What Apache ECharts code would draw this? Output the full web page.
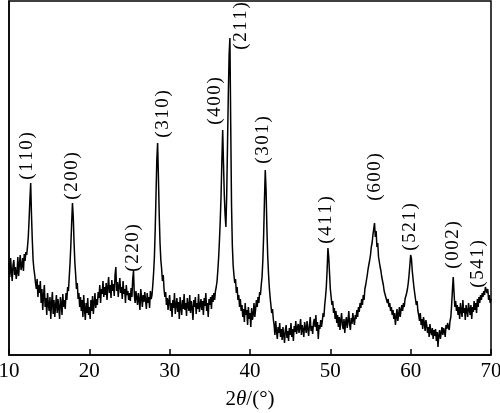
<!DOCTYPE html>
<html>
<head>
<meta charset="utf-8">
<script src="https://cdn.jsdelivr.net/npm/echarts@6/dist/echarts.min.js"></script>
<style>
  html, body { margin: 0; padding: 0; background: #fff; }
  #chart { width: 500px; height: 413px; }
</style>
</head>
<body>
<div id="chart"></div>
<script>
// XRD scan: 2θ from 10° to 70°, one reading every 0.1°
const startAngle = 10;
const stepAngle = 0.1;
const intensity = [
  92, 78, 97, 84, 74, 90, 95, 80, 88, 76,
  82, 98, 79, 91, 100, 85, 89, 97, 84, 101,
  94, 103, 100, 108, 118, 135, 155, 172, 140, 115,
  95, 86, 80, 72, 66, 76, 58, 70, 62, 74,
  52, 66, 45, 60, 70, 48, 57, 40, 62, 50,
  44, 58, 36, 52, 63, 41, 55, 38, 49, 60,
  42, 56, 47, 36, 58, 52, 40, 61, 48, 55,
  46, 62, 55, 68, 64, 78, 92, 110, 132, 152,
  138, 112, 92, 80, 66, 72, 56, 62, 48, 58,
  44, 55, 38, 60, 46, 35, 52, 42, 57, 40,
  48, 36, 55, 44, 59, 41, 52, 62, 47, 56,
  50, 63, 57, 70, 52, 66, 61, 74, 58, 68,
  60, 72, 55, 68, 78, 62, 70, 57, 75, 64,
  71, 59, 80, 88, 64, 73, 58, 69, 77, 62,
  68, 56, 74, 61, 66, 52, 70, 60, 64, 55,
  62, 54, 67, 58, 76, 84, 60, 52, 64, 57,
  50, 62, 55, 45, 66, 58, 48, 60, 53, 63,
  55, 46, 62, 52, 58, 47, 64, 56, 60, 70,
  82, 98, 125, 160, 195, 212, 178, 140, 112, 95,
  86, 74, 80, 66, 58, 63, 50, 57, 45, 54,
  60, 44, 52, 38, 55, 47, 62, 41, 50, 57,
  43, 53, 36, 58, 48, 40, 55, 46, 61, 45,
  52, 39, 57, 49, 44, 60, 42, 54, 47, 35,
  55, 48, 58, 41, 52, 46, 61, 43, 50, 56,
  45, 54, 40, 57, 49, 62, 44, 52, 38, 56,
  50, 58, 46, 60, 53, 62, 55, 64, 68, 74,
  85, 98, 115, 135, 160, 195, 225, 192, 160, 140,
  128, 160, 210, 260, 300, 317, 230, 150, 110, 90,
  80, 72, 76, 62, 68, 55, 60, 48, 56, 44,
  50, 38, 46, 33, 52, 40, 45, 30, 48, 36,
  42, 28, 47, 35, 40, 52, 38, 46, 55, 48,
  58, 52, 63, 60, 70, 78, 95, 120, 155, 185,
  165, 128, 100, 82, 68, 58, 50, 42, 46, 36,
  30, 20, 34, 24, 16, 28, 22, 32, 18, 26,
  15, 28, 20, 12, 25, 30, 17, 24, 14, 27,
  20, 32, 18, 26, 14, 29, 23, 34, 21, 27,
  31, 22, 28, 36, 20, 30, 25, 18, 33, 27,
  22, 34, 26, 19, 30, 38, 24, 29, 21, 32,
  36, 28, 40, 24, 33, 16, 30, 26, 35, 28,
  34, 42, 38, 50, 58, 68, 85, 107, 98, 82,
  66, 58, 50, 54, 42, 47, 36, 44, 32, 40,
  28, 38, 25, 35, 42, 30, 26, 36, 22, 33,
  38, 27, 34, 44, 30, 25, 37, 31, 42, 35,
  30, 40, 36, 45, 38, 48, 43, 52, 47, 56,
  50, 60, 55, 66, 70, 68, 80, 86, 84, 95,
  100, 108, 112, 120, 126, 132, 118, 124, 108, 112,
  98, 100, 88, 84, 78, 74, 70, 64, 66, 58,
  60, 52, 56, 48, 52, 44, 48, 40, 45, 36,
  42, 30, 38, 46, 34, 40, 48, 38, 45, 50,
  44, 52, 48, 56, 54, 62, 66, 72, 80, 90,
  100, 96, 84, 76, 68, 62, 56, 50, 54, 44,
  40, 34, 42, 30, 36, 26, 38, 32, 24, 35,
  30, 22, 28, 18, 31, 24, 20, 27, 16, 25,
  19, 26, 14, 23, 8, 20, 25, 16, 22, 28,
  20, 27, 24, 18, 30, 26, 32, 28, 25, 34,
  38, 50, 65, 78, 62, 48, 54, 44, 50, 40,
  48, 36, 52, 44, 38, 55, 42, 47, 35, 50,
  44, 38, 52, 46, 40, 50, 36, 48, 43, 54,
  45, 52, 42, 56, 48, 58, 52, 60, 55, 62,
  58, 64, 60, 68, 70, 62, 66, 55, 60, 52,
  56
];

// peak indices and where their labels sit (2θ, intensity)
const peakLabels = ['(110)', '(200)', '(220)', '(310)', '(400)', '(211)', '(301)', '(411)', '(600)', '(521)', '(002)', '(541)'];
const labelAngle = [12.24, 17.83, 25.4, 29.13, 35.59, 38.94, 41.68, 49.5, 55.6, 59.94, 65.28, 68.39];
const labelLevel = [199, 179, 107, 241, 254, 329, 215, 135, 178, 128, 110, 91];

const serif = '"Liberation Serif", "DejaVu Serif", serif';

const scan = intensity.map((v, i) => [+(startAngle + i * stepAngle).toFixed(1), v]);
const marks = peakLabels.map((name, i) => ({ name, value: [labelAngle[i], labelLevel[i]] }));

const chart = echarts.init(document.getElementById('chart'));
chart.setOption({
  animation: false,
  grid: {
    left: 9, right: 9, top: 1, bottom: 58,
    outerBoundsMode: 'none',
    containLabel: false,
    show: true, borderColor: '#000', borderWidth: 1.5
  },
  xAxis: {
    type: 'value',
    min: 10, max: 70, interval: 10,
    axisLine: { show: true, lineStyle: { color: '#000', width: 1.5 } },
    axisTick: { show: true, inside: true, length: 6, lineStyle: { color: '#000', width: 1.5 } },
    axisLabel: { color: '#000', fontFamily: serif, fontSize: 21, margin: 6 },
    splitLine: { show: false },
    name: '2{i|θ}/(°)',
    nameLocation: 'middle',
    nameGap: 34,
    nameTextStyle: {
      color: '#000', fontFamily: serif, fontSize: 21,
      rich: { i: { fontStyle: 'italic', fontFamily: serif, fontSize: 21, color: '#000' } }
    }
  },
  yAxis: {
    type: 'value',
    min: 0, max: 354,
    axisLine: { show: true, lineStyle: { color: '#000', width: 1.5 } },
    axisTick: { show: false },
    axisLabel: { show: false },
    splitLine: { show: false }
  },
  series: [
    {
      type: 'line',
      data: scan,
      showSymbol: false,
      sampling: 'none',
      lineStyle: { color: '#000', width: 1.5 }
    },
    {
      type: 'scatter',
      data: marks,
      symbol: 'circle',
      symbolSize: 1,
      itemStyle: { color: 'rgba(0,0,0,0)' },
      silent: true,
      z: 5,
      label: {
        show: true,
        position: 'inside',
        rotate: 90,
        color: '#000',
        opacity: 1,
        fontFamily: serif,
        fontSize: 19,
        formatter: (p) => p.name.split('').join('\u200a')
      }
    }
  ]
});
</script>
</body>
</html>
